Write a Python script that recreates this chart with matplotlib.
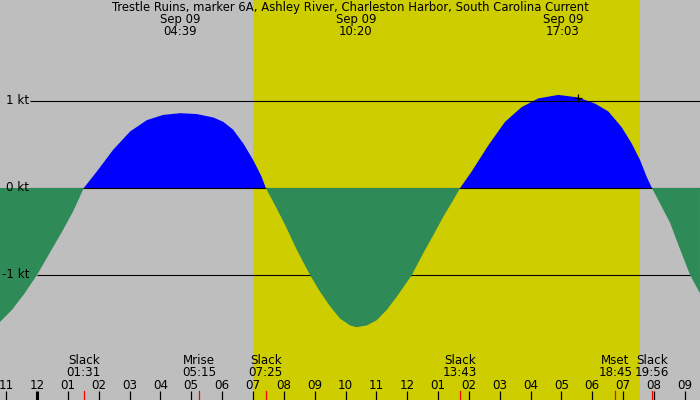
import numpy as np
import matplotlib
matplotlib.use("Agg")
import matplotlib.pyplot as plt

plt.rcParams['font.family'] = ['DejaVu Sans']

TITLE = "Trestle Ruins, marker 6A, Ashley River, Charleston Harbor, South Carolina Current"

# hours since local midnight, current speed in knots
hours = [-1.20, -0.81, -0.42, 0.00, 0.39, 0.80, 1.17, 1.517,
         1.94, 2.47, 3.02, 3.56, 4.09, 4.64, 5.18, 5.72, 6.04, 6.36, 6.69, 7.01, 7.28, 7.417,
         7.77, 8.09, 8.42, 8.85, 9.17, 9.50, 9.82, 10.15, 10.36, 10.69, 11.01, 11.34, 11.66,
         12.15, 12.52, 12.85, 13.17, 13.49, 13.717,
         14.09, 14.63, 15.17, 15.71, 16.25, 16.90, 17.55, 18.09, 18.52, 18.95, 19.28, 19.55,
         19.76, 19.933, 20.52, 20.84, 21.17, 21.49]
knots = [-1.54, -1.40, -1.22, -1.00, -0.76, -0.51, -0.27, 0.00,
         0.19, 0.44, 0.65, 0.78, 0.84, 0.86, 0.85, 0.81, 0.76, 0.67, 0.51, 0.32, 0.13, 0.00,
         -0.235, -0.46, -0.71, -1.00, -1.19, -1.36, -1.50, -1.58, -1.60, -1.58, -1.52, -1.40, -1.25,
         -1.00, -0.75, -0.54, -0.33, -0.14, 0.00,
         0.19, 0.49, 0.76, 0.93, 1.03, 1.07, 1.04, 0.97, 0.88, 0.70, 0.51, 0.32,
         0.13, 0.00, -0.40, -0.70, -1.00, -1.21]

# max/min current
peak_times = [4.65, 10.333, 17.05]
peak_labels = ["Sep 09\n04:39", "Sep 09\n10:20", "Sep 09\n17:03"]

# slack, moon rise/set
event_times = [1 + 31 / 60, 5 + 15 / 60, 7 + 25 / 60, 13 + 43 / 60, 18 + 45 / 60, 19 + 56 / 60]
event_labels = ["Slack\n01:31", "Mrise\n05:15", "Slack\n07:25", "Slack\n13:43",
                "Mset\n18:45", "Slack\n19:56"]

hour_ticks = list(range(-1, 22))
hour_labels = ["11", "12", "01", "02", "03", "04", "05", "06", "07", "08", "09", "10",
               "11", "12", "01", "02", "03", "04", "05", "06", "07", "08", "09"]

depth_levels = [1, 0, -1]
depth_labels = ["1 kt", "0 kt", "-1 kt"]

SUNRISE = 7.01
SUNSET = 19.55
NOW = 17.55
NOW_KT = 1.04

GREY = "#bebebe"
DAY = "#cdcd00"
FLOOD = "#0000ff"
EBB = "#2e8b57"

PX_H = 30.85
X0 = 37
Y0 = 188
PX_KT = 87

W, H = 700, 400
fig = plt.figure(figsize=(W / 100, H / 100), dpi=100)
ax = fig.add_axes([0, 0, 1, 1])
ax.set_xlim(-X0 / PX_H, (W - X0) / PX_H)
ax.set_ylim((Y0 - H) / PX_KT, Y0 / PX_KT)
ax.axis("off")
fig.patch.set_facecolor(GREY)

ax.axvspan(SUNRISE, SUNSET, color=DAY, lw=0, zorder=0)

h = np.array(hours)
v = np.array(knots)
ax.fill_between(h, v, 0, where=v >= 0, interpolate=True, color=FLOOD, lw=0, zorder=1)
ax.fill_between(h, v, 0, where=v <= 0, interpolate=True, color=EBB, lw=0, zorder=3)

x_right = (W - X0) / PX_H
lbl_end = {1: 30, 0: 30, -1: 37}
for lev, lab in zip(depth_levels, depth_labels):
    xs = (lbl_end[lev] - X0) / PX_H
    ax.plot([xs, x_right], [lev, lev], color="black", lw=0.8, zorder=2,
            solid_capstyle="butt")
    ax.text((29 - X0) / PX_H, lev, lab, ha="right", va="center", fontsize=8.6,
            color="black", zorder=5)

ax.plot([NOW], [NOW_KT], marker="+", color="black", ms=5.5, mew=0.9, zorder=5)


def ky(py):
    # pixel row -> knots
    return (Y0 - py) / PX_KT


ax.text(350 / PX_H - X0 / PX_H, ky(8), TITLE, ha="center", va="center",
        fontsize=8.4, zorder=5)
for t, lab in zip(peak_times, peak_labels):
    ax.text(t, ky(25.5), lab, ha="center", va="center", fontsize=8.4,
            linespacing=0.95, zorder=5)

for t, lab in zip(event_times, event_labels):
    ax.text(t, ky(366.5), lab, ha="center", va="center", fontsize=8.6,
            linespacing=0.88, zorder=5)
    ax.plot([t, t], [ky(391), ky(400)], color="red", lw=0.9, zorder=4)

for t, lab in zip(hour_ticks, hour_labels):
    ax.text(t, ky(385.5), lab, ha="center", va="center", fontsize=8.6, zorder=5)
    ax.plot([t, t], [ky(391), ky(400)], color="black", lw=2.2 if t == 0 else 0.9,
            zorder=4, solid_capstyle="butt")

fig.savefig("out.png", dpi=100, facecolor=GREY)
